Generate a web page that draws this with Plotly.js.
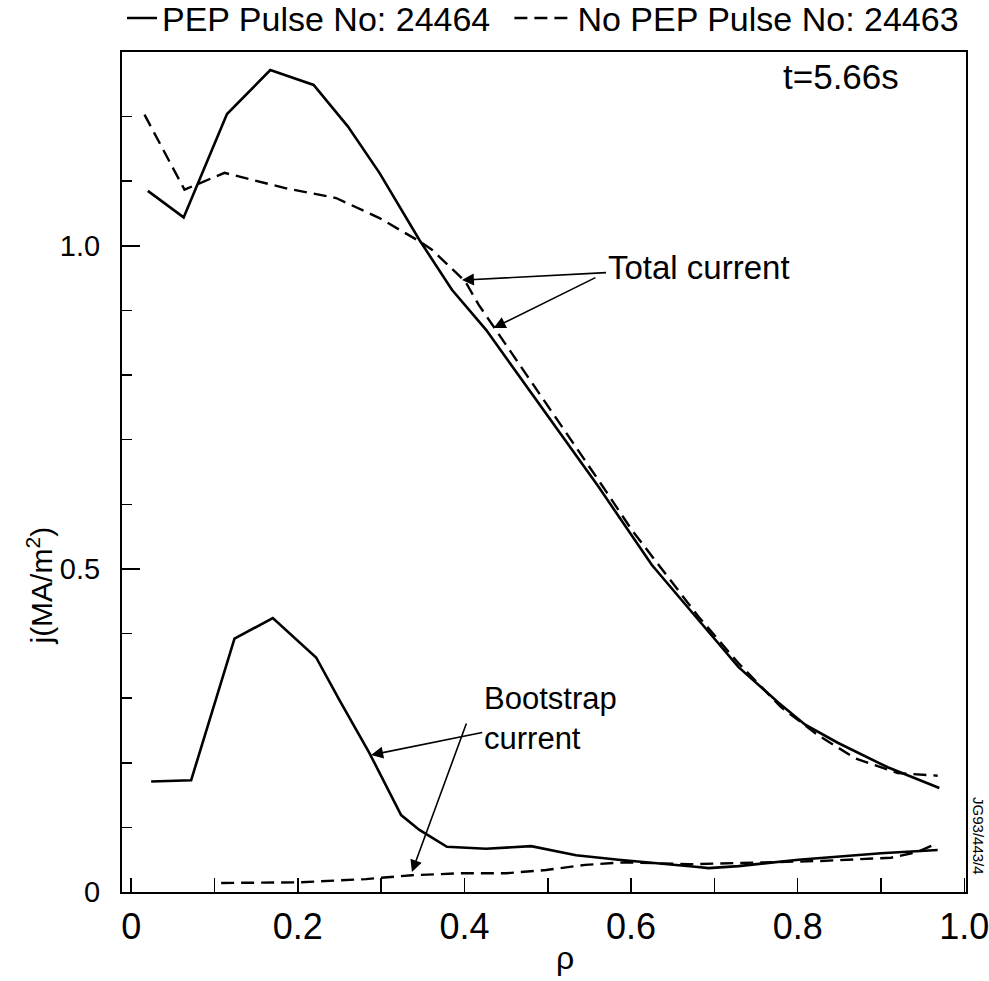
<!DOCTYPE html>
<html>
<head>
<meta charset="utf-8">
<script src="https://cdn.plot.ly/plotly-3.0.1.min.js"></script>
<style>html,body{margin:0;padding:0;background:#fff;}#chart{width:989px;height:981px;}</style>
</head>
<body>
<div id="chart"></div>
<script>
// Total current, PEP pulse 24464 (solid)
var totalPepRho = [0.020, 0.063, 0.115, 0.167, 0.219, 0.260, 0.298, 0.346, 0.385, 0.426, 0.561, 0.625, 0.681, 0.729, 0.777, 0.809, 0.848, 0.908, 0.970];
var totalPepJ   = [1.085, 1.044, 1.204, 1.272, 1.249, 1.185, 1.113, 1.009, 0.932, 0.870, 0.627, 0.506, 0.421, 0.348, 0.293, 0.259, 0.231, 0.193, 0.161];
// Total current, no PEP pulse 24463 (dashed)
var totalNoPepRho = [0.016, 0.064, 0.112, 0.186, 0.246, 0.298, 0.346, 0.361, 0.401, 0.417, 0.569, 0.601, 0.681, 0.729, 0.780, 0.824, 0.869, 0.920, 0.968];
var totalNoPepJ   = [1.203, 1.087, 1.113, 1.089, 1.074, 1.043, 1.007, 0.994, 0.945, 0.909, 0.622, 0.560, 0.426, 0.354, 0.286, 0.243, 0.207, 0.184, 0.180];
// Bootstrap current, PEP (solid)
var bootPepRho = [0.024, 0.072, 0.124, 0.170, 0.222, 0.250, 0.286, 0.324, 0.346, 0.379, 0.426, 0.480, 0.534, 0.585, 0.677, 0.693, 0.729, 0.801, 0.900, 0.968];
var bootPepJ   = [0.171, 0.173, 0.392, 0.424, 0.363, 0.297, 0.215, 0.119, 0.096, 0.070, 0.067, 0.071, 0.057, 0.050, 0.039, 0.037, 0.040, 0.050, 0.060, 0.065];
// Bootstrap current, no PEP (dashed)
var bootNoPepRho = [0.108, 0.162, 0.202, 0.282, 0.337, 0.397, 0.450, 0.498, 0.545, 0.593, 0.669, 0.828, 0.912, 0.944, 0.965];
var bootNoPepJ   = [0.014, 0.015, 0.015, 0.020, 0.026, 0.029, 0.029, 0.034, 0.042, 0.046, 0.043, 0.048, 0.053, 0.062, 0.074];

var xTickVals = [0, 0.2, 0.4, 0.6, 0.8, 1.0];
var xTickText = ['0', '0.2', '0.4', '0.6', '0.8', '1.0'];
var yTickVals = [0, 0.5, 1.0];
var yTickText = ['0', '0.5', '1.0'];

var seriesNames = ['PEP Pulse No: 24464', 'No PEP Pulse No: 24463'];

var FONT = '"Liberation Sans", Arial, Helvetica, sans-serif';
var NARROW = '"Liberation Sans Narrow", "Liberation Sans", Arial, sans-serif';

var solid = {color: '#000', width: 2.6, dash: 'solid'};
var dashed = {color: '#000', width: 2.4, dash: '13px,7px'};

var traces = [
  {x: totalPepRho, y: totalPepJ, mode: 'lines', name: seriesNames[0], line: solid, showlegend: true, legend: 'legend'},
  {x: totalNoPepRho, y: totalNoPepJ, mode: 'lines', name: seriesNames[1], line: dashed, showlegend: true, legend: 'legend2'},
  {x: bootPepRho, y: bootPepJ, mode: 'lines', name: 'Bootstrap (PEP)', line: solid, showlegend: false},
  {x: bootNoPepRho, y: bootNoPepJ, mode: 'lines', name: 'Bootstrap (no PEP)', line: dashed, showlegend: false}
];

var arrowStyle = {showarrow: true, arrowhead: 2, arrowsize: 1.5, arrowwidth: 1.6, arrowcolor: '#000'};

function arrow(tipX, tipY, tailX, tailY, text, font) {
  var a = {x: tipX, y: tipY, ax: tailX, ay: tailY, xref: 'x', yref: 'y', axref: 'x', ayref: 'y', text: text || ''};
  for (var k in arrowStyle) a[k] = arrowStyle[k];
  if (font) { a.font = font; a.align = 'left'; }
  return a;
}

var annotations = [
  arrow(0.397, 0.947, 0.681, 0.966, 'Total current', {family: FONT, size: 33, color: '#000'}),
  arrow(0.435, 0.873, 0.559, 0.952),
  arrow(0.288, 0.212, 0.503, 0.268, 'Bootstrap<br>current', {family: FONT, size: 31, color: '#000'}),
  arrow(0.337, 0.031, 0.403, 0.263),
  {x: 0.852, y: 1.262, xref: 'x', yref: 'y', text: 't=5.66s', showarrow: false, xanchor: 'center', yanchor: 'middle', font: {family: FONT, size: 35, color: '#000'}},
  {x: 1.015, y: 0.067, xref: 'paper', yref: 'paper', text: 'JG93/443/4', textangle: 90, showarrow: false, xanchor: 'center', yanchor: 'middle', font: {family: FONT, size: 15, color: '#000'}},
  {x: -0.097, y: 0.365, xref: 'paper', yref: 'paper', text: 'j(MA/m<sup>2</sup>)', textangle: -90, showarrow: false, xanchor: 'center', yanchor: 'middle', font: {family: FONT, size: 30, color: '#000'}},
  {x: 0.525, y: -0.079, xref: 'paper', yref: 'paper', text: 'ρ', showarrow: false, xanchor: 'center', yanchor: 'middle', font: {family: FONT, size: 32, color: '#000'}}
];

var legendFont = {family: FONT, size: 34, color: '#000'};

var layout = {
  width: 989, height: 981,
  paper_bgcolor: '#fff', plot_bgcolor: '#fff',
  margin: {l: 122, r: 23, t: 52, b: 89, autoexpand: false},
  showlegend: true,
  legend: {orientation: 'h', x: 0.0, xanchor: 'left', y: 1.04, yanchor: 'middle',
           font: legendFont, bgcolor: 'rgba(0,0,0,0)', itemwidth: 30},
  legend2: {orientation: 'h', x: 0.459, xanchor: 'left', y: 1.04, yanchor: 'middle',
           font: legendFont, bgcolor: 'rgba(0,0,0,0)', itemwidth: 58},
  xaxis: {
    range: [-0.011, 1.002], showgrid: false, zeroline: false,
    showline: true, linecolor: '#000', linewidth: 2, mirror: true,
    tickmode: 'array', tickvals: xTickVals, ticktext: xTickText,
    ticks: 'inside', ticklen: 14, tickwidth: 1.5, tickcolor: '#000',
    minor: {tick0: 0, dtick: 0.1, ticks: 'inside', ticklen: 14, tickwidth: 1.5, tickcolor: '#000', showgrid: false},
    tickfont: {family: NARROW, size: 36, color: '#000'},
    ticklabelstandoff: 2, ticklabeloverflow: 'allow'
  },
  yaxis: {
    range: [0, 1.3], showgrid: false, zeroline: false,
    showline: true, linecolor: '#000', linewidth: 2, mirror: true,
    tickmode: 'array', tickvals: yTickVals, ticktext: yTickText,
    ticks: 'inside', ticklen: 18, tickwidth: 1.5, tickcolor: '#000',
    minor: {tick0: 0, dtick: 0.1, ticks: 'inside', ticklen: 10, tickwidth: 1.5, tickcolor: '#000', showgrid: false},
    tickfont: {family: FONT, size: 29, color: '#000'},
    ticklabelstandoff: 14
  },
  annotations: annotations
};

Plotly.newPlot('chart', traces, layout, {staticPlot: true, displayModeBar: false});
</script>
</body>
</html>
